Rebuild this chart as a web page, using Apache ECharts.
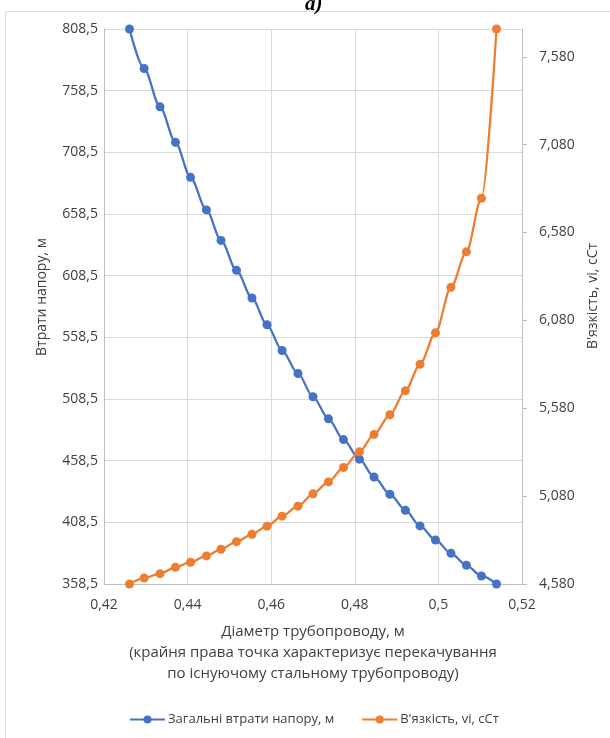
<!DOCTYPE html>
<html>
<head>
<meta charset="utf-8">
<script src="https://cdn.jsdelivr.net/npm/echarts@6/dist/echarts.min.js"></script>
<style>
html,body{margin:0;padding:0;background:#fff;}
#c{width:610px;height:738px;}
</style>
</head>
<body>
<div id="c"></div>
<script>
// Data
const diameters = [0.4261, 0.4296, 0.4334, 0.4371, 0.4407, 0.4445, 0.4480, 0.4517, 0.4554, 0.4590,
  0.4626, 0.4664, 0.4700, 0.4737, 0.4773, 0.4811, 0.4846, 0.4884, 0.4921, 0.4956,
  0.4993, 0.5030, 0.5067, 0.5103, 0.5139];
const headLoss = [808.5, 776.5, 745.4, 716.6, 688.2, 661.8, 637.1, 612.8, 590.4, 568.7,
  547.8, 529.2, 510.3, 492.4, 475.6, 459.7, 445.3, 431.3, 418.3, 405.6,
  394.2, 383.4, 373.7, 365.0, 358.5];
const viscosity = [4.580, 4.614, 4.639, 4.675, 4.704, 4.740, 4.778, 4.821, 4.863, 4.909,
  4.966, 5.023, 5.093, 5.161, 5.243, 5.332, 5.431, 5.543, 5.680, 5.830,
  6.009, 6.268, 6.470, 6.775, 7.738];
const xTicks = [0.42, 0.44, 0.46, 0.48, 0.50, 0.52];
const leftTicks = [358.5, 408.5, 458.5, 508.5, 558.5, 608.5, 658.5, 708.5, 758.5, 808.5];
const rightTicks = [4.58, 5.08, 5.58, 6.08, 6.58, 7.08, 7.58];

const seriesNames = ['Загальні втрати напору, м', "В'язкість, vi, сСт"];
const xTitle = 'Діаметр трубопроводу, м\n(крайня права точка характеризує перекачування\nпо існуючому стальному трубопроводу)';
const leftTitle = 'Втрати напору, м';
const rightTitle = "В'язкість, vi, сСт";

const FONT = 'Open Sans';
const TXT = '#404040';
const GRID = '#d9d9d9';
const AXIS = '#bfbfbf';

const comma = s => s.replace('.', ',');

const chart = echarts.init(document.getElementById('c'), null, {renderer: 'canvas'});
chart.setOption({
  animation: false,
  backgroundColor: '#fff',
  graphic: [
    {type: 'rect', shape: {x: 5.5, y: 11.5, width: 800, height: 900}, style: {fill: 'none', stroke: GRID, lineWidth: 1}, silent: true},
    {type: 'text', left: 305, top: -6, style: {text: 'а)', font: 'italic bold 21px "Liberation Serif"', fill: '#000'}},
    {type: 'text', rotation: Math.PI / 2, x: 42, y: 297, style: {text: leftTitle, font: '14px "' + FONT + '"', fill: TXT, align: 'center', verticalAlign: 'middle'}},
    {type: 'text', rotation: Math.PI / 2, x: 593, y: 296, style: {text: rightTitle, font: '14px "' + FONT + '"', fill: TXT, align: 'center', verticalAlign: 'middle'}}
  ],
  grid: {left: 104, right: 88, top: 29, bottom: 154, containLabel: false},
  legend: {
    left: 124, top: 708,
    itemWidth: 35, itemHeight: 10, itemGap: 27,
    textStyle: {fontFamily: FONT, fontSize: 13, color: TXT, padding: [0, 0, 0, -2]},
    data: seriesNames
  },
  xAxis: {
    type: 'value', min: xTicks[0], max: xTicks[xTicks.length - 1], interval: 0.02,
    name: xTitle, nameLocation: 'middle', nameGap: 37,
    nameTextStyle: {fontFamily: FONT, fontSize: 15, color: TXT, lineHeight: 21},
    axisLine: {show: true, lineStyle: {color: AXIS, width: 1}},
    axisTick: {show: false},
    axisLabel: {fontFamily: FONT, fontSize: 14, color: TXT, margin: 14,
      formatter: v => comma(String(+v.toFixed(2)))},
    splitLine: {show: true, lineStyle: {color: GRID, width: 1}}
  },
  yAxis: [
    {
      type: 'value', min: leftTicks[0], max: leftTicks[leftTicks.length - 1], interval: 50,
      axisLine: {show: true, lineStyle: {color: AXIS, width: 1}},
      axisTick: {show: false},
      axisLabel: {fontFamily: FONT, fontSize: 14, color: TXT, margin: 6,
        formatter: v => comma(v.toFixed(1))},
      splitLine: {show: true, lineStyle: {color: GRID, width: 1}}
    },
    {
      type: 'value', position: 'right', min: rightTicks[0], max: Math.max(...viscosity), interval: 0.5,
      axisLine: {show: true, lineStyle: {color: AXIS, width: 1}},
      axisTick: {show: true, inside: false, length: 5, lineStyle: {color: AXIS}, customValues: rightTicks},
      axisLabel: {fontFamily: FONT, fontSize: 14, color: TXT, margin: 17, customValues: rightTicks,
        formatter: v => comma(v.toFixed(3))},
      splitLine: {show: false}
    }
  ],
  series: [
    {
      name: seriesNames[0], type: 'line', yAxisIndex: 0,
      data: diameters.map((d, i) => [d, headLoss[i]]),
      smooth: 0.3, smoothMonotone: 'x',
      symbol: 'circle', symbolSize: 9, showAllSymbol: true,
      lineStyle: {color: '#4472C4', width: 2.25},
      itemStyle: {color: '#4472C4'}
    },
    {
      name: seriesNames[1], type: 'line', yAxisIndex: 1,
      data: diameters.map((d, i) => [d, viscosity[i]]),
      smooth: 0.3, smoothMonotone: 'x',
      symbol: 'circle', symbolSize: 9, showAllSymbol: true,
      lineStyle: {color: '#ED7D31', width: 2.25},
      itemStyle: {color: '#ED7D31'}
    }
  ]
});
</script>
</body>
</html>
